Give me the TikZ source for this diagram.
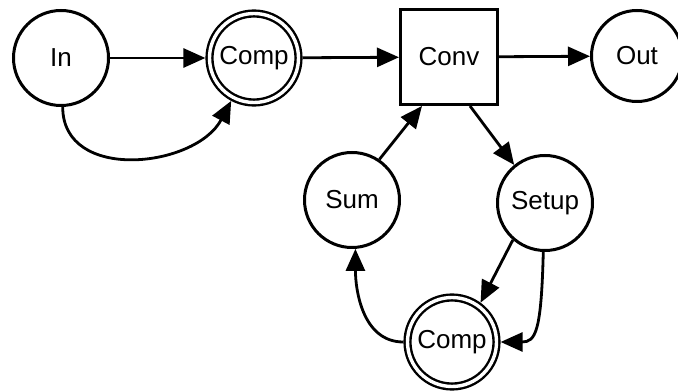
\documentclass[tikz,border=0pt]{standalone}
\usepackage{fontspec}
\setmainfont{Liberation Sans}
\usetikzlibrary{arrows.meta}
\begin{document}
\begin{tikzpicture}[x=1pt,y=1pt,
  every node/.style={font=\fontsize{26}{30}\selectfont},
  state/.style={circle, draw, line width=3pt, minimum size=95pt, inner sep=0pt},
  dstate/.style={circle, draw, line width=2.4pt, double, double distance=3.4pt,
                 minimum size=89pt, inner sep=0pt, outer sep=4.1pt},
  block/.style={rectangle, draw, line width=3pt, minimum width=97pt, minimum height=95pt, inner sep=0pt},
  flow/.style={line width=2.8pt, -{Triangle[length=22pt,width=19pt]}}
]
\useasboundingbox (0,0) rectangle (678,391);

% top row
\node[state]  (in)    at (61,333)  {In};
\node[dstate] (comp)  at (254,333) {Comp};
\node[block]  (conv)  at (449,334) {Conv};
\node[state, minimum size=91pt] (out) at (637,335) {Out};

% feedback loop
\node[state]  (sum)   at (352,191) {Sum};
\node[state]  (setup) at (545,188) {Setup};
\node[dstate] (comp2) at (452,49)  {Comp};

\draw[flow] (in) -- (comp);
\draw[flow] (in.-88) to[out=-90, in=-118, looseness=1.15] (comp.-118);
\draw[flow] (comp) -- (conv);
\draw[flow] (conv) -- (out);
\draw[flow] (sum.56) -- ([xshift=-27pt]conv.south);
\draw[flow] ([xshift=21pt]conv.south) -- (setup.129);
\draw[flow] (setup.-131) -- (comp2.54);
\draw[flow] (setup.-92) .. controls +(-2,-80) and +(35,0) .. (comp2.east);
\draw[flow] (comp2.west) to[out=180, in=-90] (sum.-86);
\end{tikzpicture}
\end{document}
